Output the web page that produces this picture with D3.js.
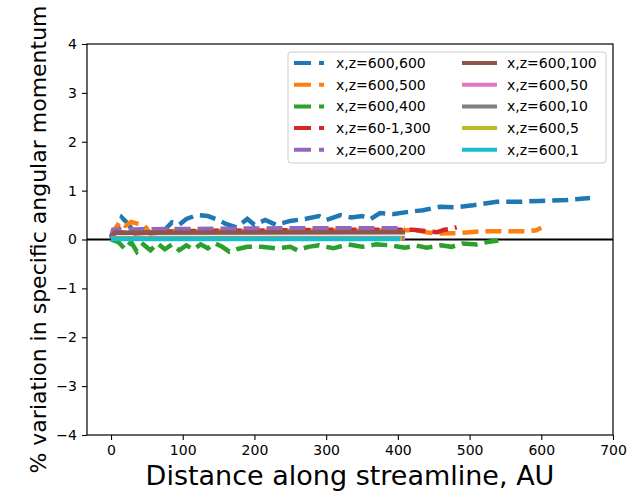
<!DOCTYPE html>
<html>
<head>
<meta charset="utf-8">
<script src="https://cdn.jsdelivr.net/npm/d3@7"></script>
<style>
body{margin:0;background:#fff;}
text{font-family:"DejaVu Sans",sans-serif;fill:#000;}
</style>
</head>
<body>
<div id="chart"></div>
<script>
// series labels & colours (matplotlib tab10 order)
const names=["x,z=600,600","x,z=600,500","x,z=600,400","x,z=60-1,300","x,z=600,200",
             "x,z=600,100","x,z=600,50","x,z=600,10","x,z=600,5","x,z=600,1"];
const colors=["#1f77b4","#ff7f0e","#2ca02c","#d62728","#9467bd","#8c564b","#e377c2","#7f7f7f","#bcbd22","#17becf"];
const dashed=[true,true,true,true,true,false,false,false,false,false];

// distance along streamline (AU) and % variation
const d600=[0,8,15,22,30,45,60,75,85,95,105,120,135,150,160,175,190,200,215,230,250,270,290,300,320,335,350,362,375,395,412,435,459,480,505,538,566,598,636,668];
const v600=[0.0,0.2,0.45,0.35,0.2,0.15,0.15,0.2,0.35,0.3,0.42,0.5,0.48,0.4,0.32,0.25,0.42,0.3,0.4,0.3,0.38,0.42,0.48,0.4,0.5,0.45,0.48,0.42,0.54,0.52,0.56,0.6,0.67,0.66,0.7,0.77,0.77,0.79,0.81,0.85];
const d500=[0,5,12,20,28,38,46,55,70,90,120,160,200,250,300,350,400,425,440,455,470,485,500,520,550,580,593,600];
const v500=[0.05,0.2,0.36,0.28,0.36,0.32,0.3,0.12,0.15,0.18,0.17,0.18,0.17,0.18,0.19,0.18,0.19,0.19,0.15,0.12,0.13,0.13,0.15,0.17,0.17,0.17,0.19,0.24];
const d400=[0,10,20,28,36,45,55,65,75,85,95,105,115,125,135,145,155,165,175,190,210,230,250,260,275,290,310,330,350,370,390,410,425,440,460,475,490,510,525,540];
const v400=[0,-0.05,-0.2,-0.05,-0.25,-0.1,-0.22,-0.08,-0.2,-0.1,-0.22,-0.12,-0.2,-0.1,-0.18,-0.08,-0.15,-0.25,-0.2,-0.15,-0.15,-0.18,-0.15,-0.22,-0.15,-0.12,-0.18,-0.1,-0.15,-0.1,-0.12,-0.17,-0.12,-0.17,-0.12,-0.15,-0.08,-0.1,-0.05,-0.02];
const d300=[0,10,30,60,100,150,200,250,300,350,400,420,440,455,465,475,482];
const v300=[0.1,0.15,0.12,0.15,0.17,0.18,0.18,0.19,0.2,0.2,0.2,0.2,0.17,0.15,0.2,0.22,0.25];
const d200=[0,3,50,150,250,350,410];
const v200=[0.05,0.2,0.21,0.22,0.23,0.23,0.23];
const d100=[0,5,410];
const v100=[0.05,0.14,0.15];
const d50=[0,410], v50=[0.03,0.03];
const d10=[0,408], v10=[0.02,0.02];
const d5=[0,406], v5=[0.015,0.015];
const d1=[0,403], v1=[0.01,0.01];

const dists=[d600,d500,d400,d300,d200,d100,d50,d10,d5,d1];
const vals=[v600,v500,v400,v300,v200,v100,v50,v10,v5,v1];

const xTicks=[0,100,200,300,400,500,600,700];
const yTicks=[-4,-3,-2,-1,0,1,2,3,4];

const W=640,H=493;
const L=87,R=613,T=44,B=435;

const svg=d3.select("#chart").append("svg").attr("width",W).attr("height",H);

const x=d3.scaleLinear().domain([-33.5,700]).range([L,R]);
const y=d3.scaleLinear().domain([-4,4]).range([B,T]);

// zero line
svg.append("line")
   .attr("x1",L).attr("x2",R)
   .attr("y1",y(0)).attr("y2",y(0))
   .attr("stroke","#000").attr("stroke-width",2);

const line=d3.line().x(d=>x(d[0])).y(d=>y(d[1]));
const plot=svg.append("g");
names.forEach(function(n,i){
  const pts=dists[i].map((d,j)=>[d,vals[i][j]]);
  plot.append("path")
      .datum(pts)
      .attr("d",line)
      .attr("fill","none")
      .attr("stroke",colors[i])
      .attr("stroke-width",4.5)
      .attr("stroke-dasharray",dashed[i]?"16,7":null);
});

// axes
const fmt=d=>String(d).replace("-","\u2212");
const xa=svg.append("g").attr("transform","translate(0,"+B+")")
   .call(d3.axisBottom(x).tickValues(xTicks).tickSize(5).tickSizeOuter(0).tickPadding(5).tickFormat(fmt));
const ya=svg.append("g").attr("transform","translate("+L+",0)")
   .call(d3.axisLeft(y).tickValues(yTicks).tickSize(5).tickSizeOuter(0).tickPadding(5).tickFormat(fmt));
[xa,ya].forEach(function(a){
  a.select(".domain").remove();
  a.selectAll("text").style("font-size","14px").style("font-family","DejaVu Sans");
  a.selectAll("line").attr("stroke","#000").attr("stroke-width",1.1);
});

svg.append("rect")
   .attr("x",L).attr("y",T).attr("width",R-L).attr("height",B-T)
   .attr("fill","none").attr("stroke","#000").attr("stroke-width",1.2);

// labels
svg.append("text")
   .attr("x",(L+R)/2).attr("y",485)
   .attr("text-anchor","middle")
   .style("font-size","27px")
   .text("Distance along streamline, AU");
svg.append("text")
   .attr("transform","translate(46,"+((T+B)/2)+") rotate(-90)")
   .attr("text-anchor","middle")
   .style("font-size","22px")
   .text("% variation in specific angular momentum");

// legend
const lg=svg.append("g");
lg.append("rect")
  .attr("x",288).attr("y",52).attr("width",318).attr("height",111)
  .attr("rx",3).attr("fill","#fff").attr("fill-opacity",0.8)
  .attr("stroke","#ccc").attr("stroke-width",1);
names.forEach(function(n,i){
  const col=Math.floor(i/5), row=i%5;
  const hx=col===0?294:462;
  const ty=63+row*21.7;
  lg.append("line")
    .attr("x1",hx).attr("x2",hx+(dashed[i]?30:35))
    .attr("y1",ty).attr("y2",ty)
    .attr("stroke",colors[i]).attr("stroke-width",4)
    .attr("stroke-dasharray",dashed[i]?"17,8":null);
  lg.append("text")
    .attr("x",col===0?336:507).attr("y",ty).attr("dy","0.36em")
    .style("font-size","14px")
    .text(n);
});
</script>
</body>
</html>
